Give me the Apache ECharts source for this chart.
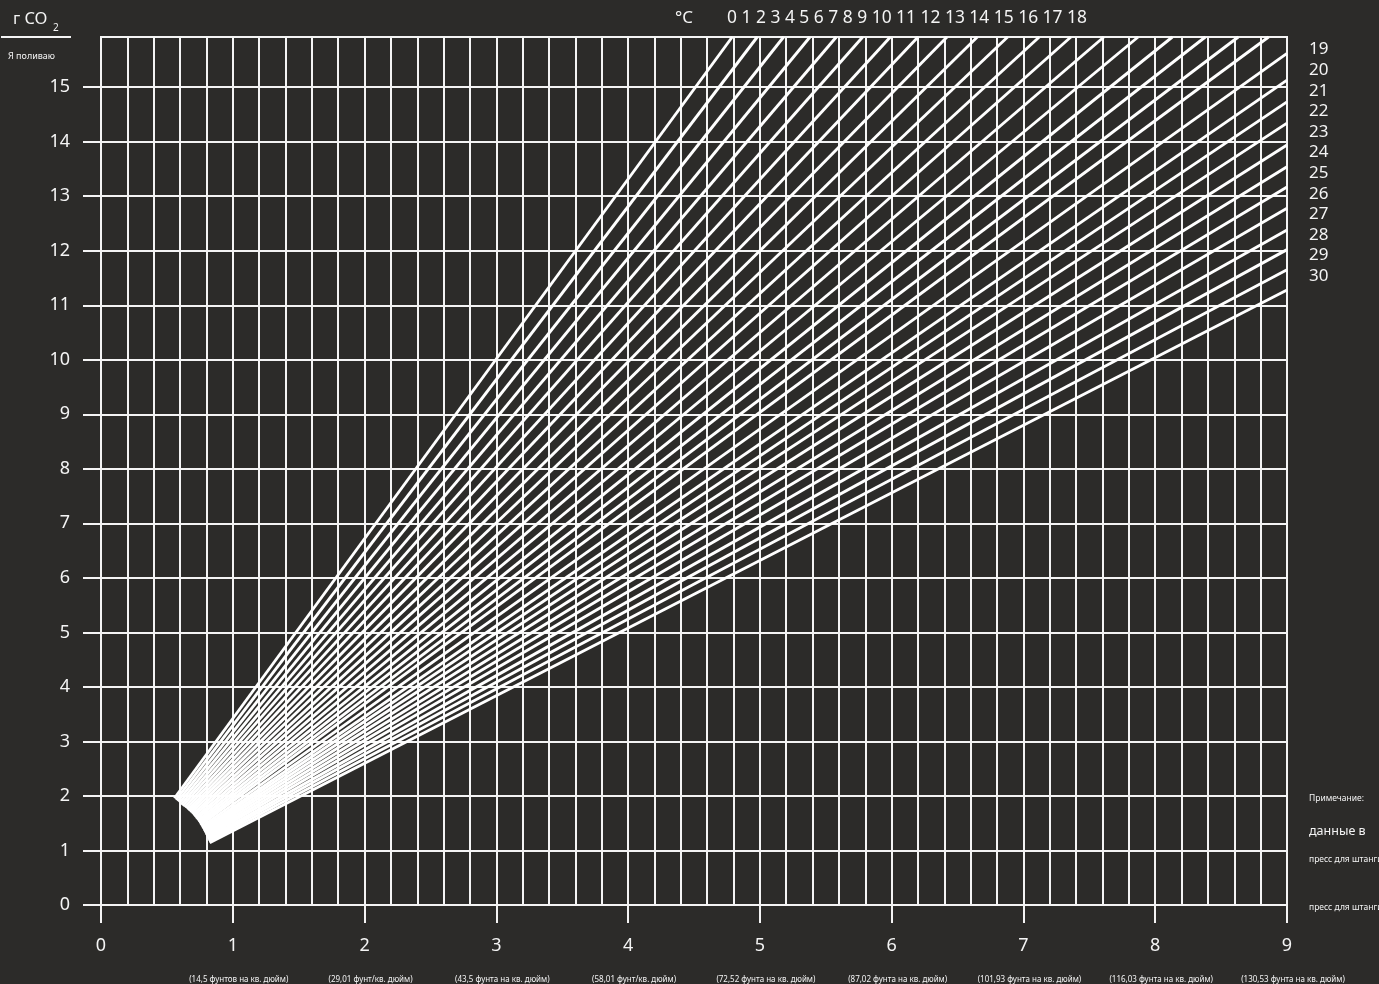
<!DOCTYPE html>
<html>
<head>
<meta charset="utf-8">
<title>CO2</title>
<script src="https://cdn.jsdelivr.net/npm/echarts@6/dist/echarts.min.js"></script>
<style>
  html, body { margin: 0; padding: 0; background: #2c2b29; }
  #chart { width: 1379px; height: 984px; }
</style>
</head>
<body>
<div id="chart"></div>
<script>
// temperature of each line, degrees C
var tempC = [0, 1, 2, 3, 4, 5, 6, 7, 8, 9, 10, 11, 12, 13, 14, 15, 16, 17, 18,
             19, 20, 21, 22, 23, 24, 25, 26, 27, 28, 29, 30];
// where each line starts (bar, g CO2)
var startBar = [0.557, 0.570, 0.584, 0.597, 0.608, 0.621, 0.635, 0.648, 0.660, 0.672, 0.684,
                0.695, 0.705, 0.715, 0.724, 0.734, 0.742, 0.749, 0.755, 0.763, 0.770,
                0.776, 0.781, 0.787, 0.792, 0.797, 0.803, 0.809, 0.814, 0.819, 0.825];
var startGram = [1.958, 1.929, 1.901, 1.873, 1.842, 1.818, 1.795, 1.771, 1.744, 1.717, 1.691,
                 1.662, 1.634, 1.604, 1.574, 1.546, 1.519, 1.491, 1.465, 1.432, 1.404,
                 1.379, 1.354, 1.329, 1.301, 1.276, 1.250, 1.222, 1.196, 1.169, 1.143];
// where each line ends (top edge for 0..18, right edge for 19..30)
var endBar = [4.79, 4.98, 5.18, 5.38, 5.58, 5.78, 5.99, 6.20, 6.42, 6.65, 6.88,
              7.12, 7.36, 7.61, 7.87, 8.13, 8.38, 8.63, 8.86,
              9, 9, 9, 9, 9, 9, 9, 9, 9, 9, 9, 9];
var endGram = [15.92, 15.92, 15.92, 15.92, 15.92, 15.92, 15.92, 15.92, 15.92, 15.92, 15.92,
               15.92, 15.92, 15.92, 15.92, 15.92, 15.92, 15.92, 15.92,
               15.62, 15.13, 14.73, 14.34, 13.94, 13.54, 13.17, 12.78, 12.38, 12.02, 11.65, 11.28];
var yTicks = [0, 1, 2, 3, 4, 5, 6, 7, 8, 9, 10, 11, 12, 13, 14, 15];
var psiLabels = ['', '(14,5 фунтов на кв. дюйм)', '(29,01 фунт/кв. дюйм)', '(43,5 фунта на кв. дюйм)',
                 '(58,01 фунт/кв. дюйм)', '(72,52 фунта на кв. дюйм)', '(87,02 фунта на кв. дюйм)',
                 '(101,93 фунта на кв. дюйм)', '(116,03 фунта на кв. дюйм)', '(130,53 фунта на кв. дюйм)'];

var white = '#f4f4f4';
var font = 'Noto Sans';

var series = tempC.map(function (t, i) {
  return {
    name: t + ' °C',
    type: 'line',
    symbol: 'none',
    silent: true,
    lineStyle: { color: '#ffffff', width: 2.9 },
    data: [[startBar[i], startGram[i]], [endBar[i], endGram[i]]]
  };
});

var graphics = [
  { type: 'text', left: 13, top: 11, style: { text: 'г CO', fill: white, font: '16.5px "Noto Sans"' } },
  { type: 'text', left: 53, top: 23, style: { text: '2', fill: white, font: '10px "Noto Sans"' } },
  { type: 'line', shape: { x1: 1, y1: 37, x2: 71, y2: 37 }, style: { stroke: white, lineWidth: 2 } },
  { type: 'text', left: 8, top: 52, style: { text: 'Я поливаю', fill: white, font: '9px "Noto Sans"' } },
  { type: 'text', left: 675, top: 10, style: { text: '°C', fill: white, font: '17px "Noto Sans"' } },
  { type: 'text', left: 727, top: 10, style: { text: tempC.slice(0, 19).join(' '), fill: white, font: '17.4px "Noto Sans"' } },
  { type: 'text', left: 1309, top: 794, style: { text: 'Примечание:', fill: white, font: '8.5px "Noto Sans"' } },
  { type: 'text', left: 1309, top: 825, style: { text: 'данные в', fill: white, font: '12.5px "Noto Sans"' } },
  { type: 'text', left: 1309, top: 855, style: { text: 'пресс для штанги', fill: white, font: '8.5px "Noto Sans"' } },
  { type: 'text', left: 1309, top: 903, style: { text: 'пресс для штанги', fill: white, font: '8.5px "Noto Sans"' } }
];
tempC.slice(19).forEach(function (t, i) {
  graphics.push({ type: 'text', left: 1309, top: 41 + i * 20.6,
                  style: { text: String(t), fill: white, font: '17px "Noto Sans"' } });
});

var chart = echarts.init(document.getElementById('chart'));
chart.setOption({
  backgroundColor: '#2c2b29',
  animation: false,
  textStyle: { fontFamily: font },
  grid: { left: 101, right: 92, top: 37, bottom: 79, show: true,
          borderColor: white, borderWidth: 2 },
  xAxis: [{
    type: 'value', min: 0, max: 9, interval: 1,
    axisLine: { show: false },
    axisTick: { show: true, length: 18, lineStyle: { color: white, width: 2 } },
    axisLabel: { color: white, fontSize: 18, margin: 32 },
    splitLine: { show: true, lineStyle: { color: white, width: 2 } },
    minorTick: { show: false, splitNumber: 5 },
    minorSplitLine: { show: true, lineStyle: { color: white, width: 2 } }
  }, {
    type: 'value', min: 0, max: 9, interval: 1, position: 'bottom',
    axisLine: { show: false }, axisTick: { show: false }, splitLine: { show: false },
    axisLabel: { color: white, fontSize: 8, margin: 71, padding: [0, 0, 0, 12],
                 formatter: function (v) { return psiLabels[v] || ''; } }
  }],
  yAxis: {
    type: 'value', min: 0, max: 15.92, interval: 1,
    axisLine: { show: false },
    axisTick: { show: true, length: 18, customValues: yTicks, lineStyle: { color: white, width: 2 } },
    axisLabel: { color: white, fontSize: 18, margin: 31, customValues: yTicks,
                 formatter: function (v) { return Number.isInteger(v) ? String(v) : ''; } },
    splitLine: { show: true, lineStyle: { color: white, width: 2 } }
  },
  graphic: graphics,
  series: series
});
</script>
</body>
</html>
